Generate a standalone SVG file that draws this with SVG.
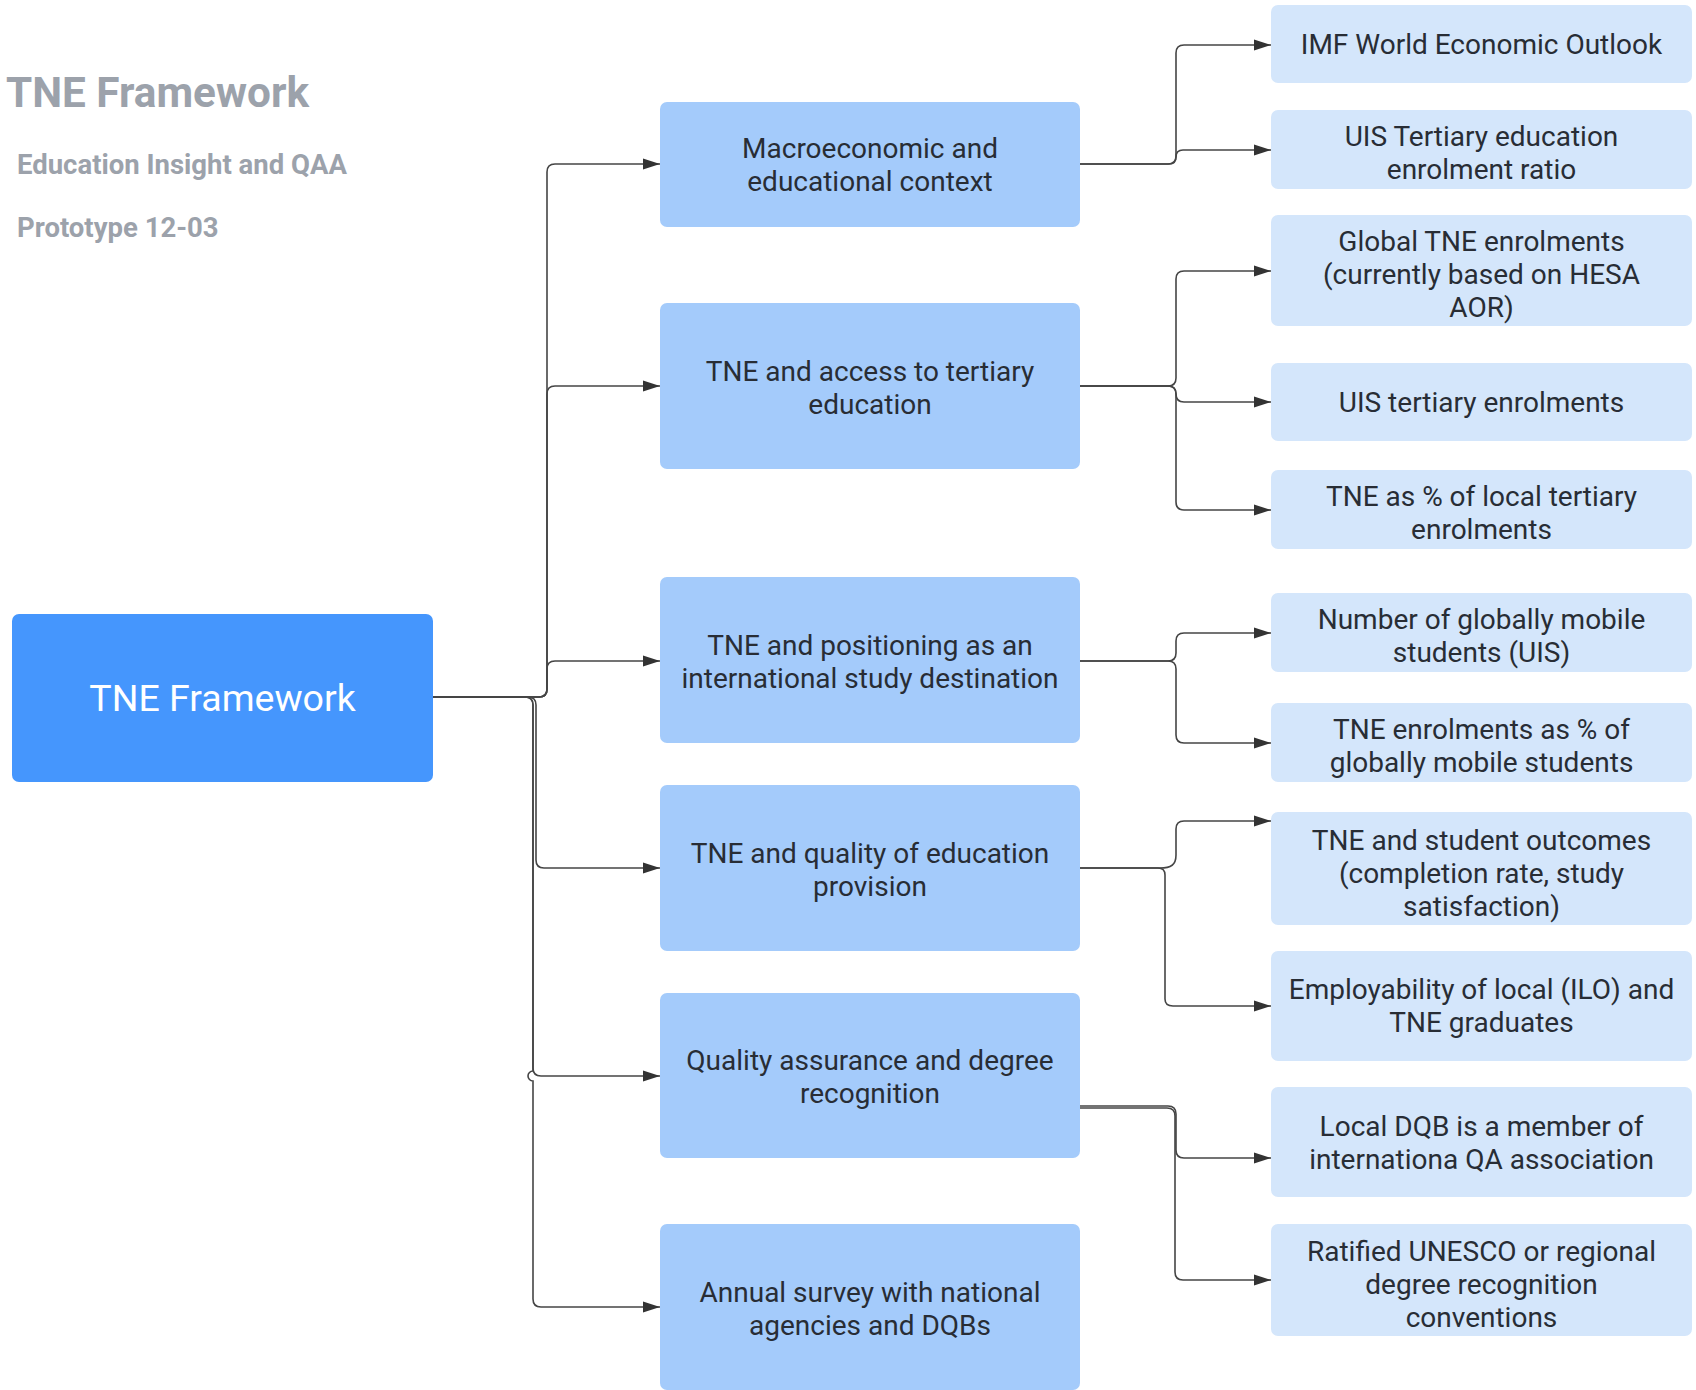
<svg xmlns="http://www.w3.org/2000/svg" width="1696" height="1390" viewBox="0 0 1696 1390">
<style>
.title{font-family:Roboto,"Liberation Sans",sans-serif;font-weight:bold;fill:#9ca2ab}
.root{fill:#4596fd}
.mid{fill:#a4cbfb}
.leaf{fill:#d4e6fb}
.t{font-family:Roboto,"Liberation Sans",sans-serif;font-size:28px;fill:#282d35;text-anchor:middle}
.rt{font-family:Roboto,"Liberation Sans",sans-serif;font-size:37.5px;fill:#ffffff;text-anchor:middle}
.c{fill:none;stroke:#454545;stroke-width:1.6}
.ca{fill:none;stroke:#454545;stroke-width:1.6;marker-end:url(#ah)}
</style>
<defs>
<marker id="ah" markerUnits="userSpaceOnUse" markerWidth="17" markerHeight="12" refX="17" refY="6" orient="auto">
<path d="M0 0.5 L17 6 L0 11.5 z" fill="#333333"/>
</marker>
</defs>
<rect width="1696" height="1390" fill="#ffffff"/>

<g id="header">
<text class="title" x="6" y="107" font-size="42.3">TNE Framework</text>
<text class="title" x="17" y="174" font-size="27.5">Education Insight and QAA</text>
<text class="title" x="17" y="237" font-size="27.5">Prototype 12-03</text>
</g>

<g id="connectors">
<!-- root to mid boxes -->
<path class="ca" d="M433 697 H539 Q547 697 547 689 V172 Q547 164 555 164 H660"/>
<path class="ca" d="M433 697 H539 Q547 697 547 689 V394 Q547 386 555 386 H660"/>
<path class="ca" d="M433 697 H539 Q547 697 547 689 V669 Q547 661 555 661 H660"/>
<path class="ca" d="M433 697 H528 Q536 697 536 705 V860 Q536 868 544 868 H660"/>
<path class="ca" d="M433 697 H525 Q533 697 533 705 V1068 Q533 1076 541 1076 H660"/>
<path class="ca" d="M433 697 H525 Q533 697 533 705 V1071 A5 5 0 0 0 533 1081 V1299 Q533 1307 541 1307 H660"/>
<!-- box 1 -->
<path class="ca" d="M1080 164 H1168 Q1176 164 1176 156 V53 Q1176 45 1184 45 H1271"/>
<path class="ca" d="M1080 164 H1169 Q1176 164 1176 157 Q1176 150 1183 150 H1271"/>
<!-- box 2 -->
<path class="ca" d="M1080 386 H1168 Q1176 386 1176 378 V279 Q1176 271 1184 271 H1271"/>
<path class="ca" d="M1080 386 H1168 Q1176 386 1176 394 Q1176 402 1184 402 H1271"/>
<path class="ca" d="M1080 386 H1168 Q1176 386 1176 394 V502 Q1176 510 1184 510 H1271"/>
<!-- box 3 -->
<path class="ca" d="M1080 661 H1168 Q1176 661 1176 653 V641 Q1176 633 1184 633 H1271"/>
<path class="ca" d="M1080 661 H1168 Q1176 661 1176 669 V735 Q1176 743 1184 743 H1271"/>
<!-- box 4 -->
<path class="ca" d="M1080 868 H1160 C1171 868 1176 865 1176 855 V829 Q1176 821 1184 821 H1271"/>
<path class="ca" d="M1080 868 H1158 Q1165 868 1165 875 V999 Q1165 1006 1173 1006 H1271"/>
<!-- box 5 -->
<path class="ca" d="M1080 1106 H1168 Q1176 1106 1176 1114 V1150 Q1176 1158 1184 1158 H1271"/>
<path class="ca" d="M1080 1108 H1167 Q1175 1108 1175 1116 V1272 Q1175 1280 1183 1280 H1271"/>
</g>

<g id="root">
<rect class="root" x="12" y="614" width="421" height="168" rx="7"/>
<text class="rt" x="222.5" y="711">TNE Framework</text>
</g>

<g id="mid1">
<rect class="mid" x="660" y="102" width="420" height="125" rx="7"/>
<text class="t" x="870" y="158">Macroeconomic and</text>
<text class="t" x="870" y="191">educational context</text>
</g>
<g id="mid2">
<rect class="mid" x="660" y="303" width="420" height="166" rx="7"/>
<text class="t" x="870" y="381">TNE and access to tertiary</text>
<text class="t" x="870" y="414">education</text>
</g>
<g id="mid3">
<rect class="mid" x="660" y="577" width="420" height="166" rx="7"/>
<text class="t" x="870" y="655">TNE and positioning as an</text>
<text class="t" x="870" y="688">international study destination</text>
</g>
<g id="mid4">
<rect class="mid" x="660" y="785" width="420" height="166" rx="7"/>
<text class="t" x="870" y="863">TNE and quality of education</text>
<text class="t" x="870" y="896">provision</text>
</g>
<g id="mid5">
<rect class="mid" x="660" y="993" width="420" height="165" rx="7"/>
<text class="t" x="870" y="1070">Quality assurance and degree</text>
<text class="t" x="870" y="1103">recognition</text>
</g>
<g id="mid6">
<rect class="mid" x="660" y="1224" width="420" height="166" rx="7"/>
<text class="t" x="870" y="1302">Annual survey with national</text>
<text class="t" x="870" y="1335">agencies and DQBs</text>
</g>

<g id="leaf1">
<rect class="leaf" x="1271" y="5" width="421" height="78" rx="7"/>
<text class="t" x="1481.5" y="54">IMF World Economic Outlook</text>
</g>
<g id="leaf2">
<rect class="leaf" x="1271" y="110" width="421" height="79" rx="7"/>
<text class="t" x="1481.5" y="146">UIS Tertiary education</text>
<text class="t" x="1481.5" y="179">enrolment ratio</text>
</g>
<g id="leaf3">
<rect class="leaf" x="1271" y="215" width="421" height="111" rx="7"/>
<text class="t" x="1481.5" y="251">Global TNE enrolments</text>
<text class="t" x="1481.5" y="284">(currently based on HESA</text>
<text class="t" x="1481.5" y="317">AOR)</text>
</g>
<g id="leaf4">
<rect class="leaf" x="1271" y="363" width="421" height="78" rx="7"/>
<text class="t" x="1481.5" y="412">UIS tertiary enrolments</text>
</g>
<g id="leaf5">
<rect class="leaf" x="1271" y="470" width="421" height="79" rx="7"/>
<text class="t" x="1481.5" y="506">TNE as % of local tertiary</text>
<text class="t" x="1481.5" y="539">enrolments</text>
</g>
<g id="leaf6">
<rect class="leaf" x="1271" y="593" width="421" height="79" rx="7"/>
<text class="t" x="1481.5" y="629">Number of globally mobile</text>
<text class="t" x="1481.5" y="662">students (UIS)</text>
</g>
<g id="leaf7">
<rect class="leaf" x="1271" y="703" width="421" height="79" rx="7"/>
<text class="t" x="1481.5" y="739">TNE enrolments as % of</text>
<text class="t" x="1481.5" y="772">globally mobile students</text>
</g>
<g id="leaf8">
<rect class="leaf" x="1271" y="812" width="421" height="113" rx="7"/>
<text class="t" x="1481.5" y="850">TNE and student outcomes</text>
<text class="t" x="1481.5" y="883">(completion rate, study</text>
<text class="t" x="1481.5" y="916">satisfaction)</text>
</g>
<g id="leaf9">
<rect class="leaf" x="1271" y="951" width="421" height="110" rx="7"/>
<text class="t" x="1481.5" y="999">Employability of local (ILO) and</text>
<text class="t" x="1481.5" y="1032">TNE graduates</text>
</g>
<g id="leaf10">
<rect class="leaf" x="1271" y="1087" width="421" height="110" rx="7"/>
<text class="t" x="1481.5" y="1136">Local DQB is a member of</text>
<text class="t" x="1481.5" y="1169">internationa QA association</text>
</g>
<g id="leaf11">
<rect class="leaf" x="1271" y="1224" width="421" height="112" rx="7"/>
<text class="t" x="1481.5" y="1261">Ratified UNESCO or regional</text>
<text class="t" x="1481.5" y="1294">degree recognition</text>
<text class="t" x="1481.5" y="1327">conventions</text>
</g>
</svg>
